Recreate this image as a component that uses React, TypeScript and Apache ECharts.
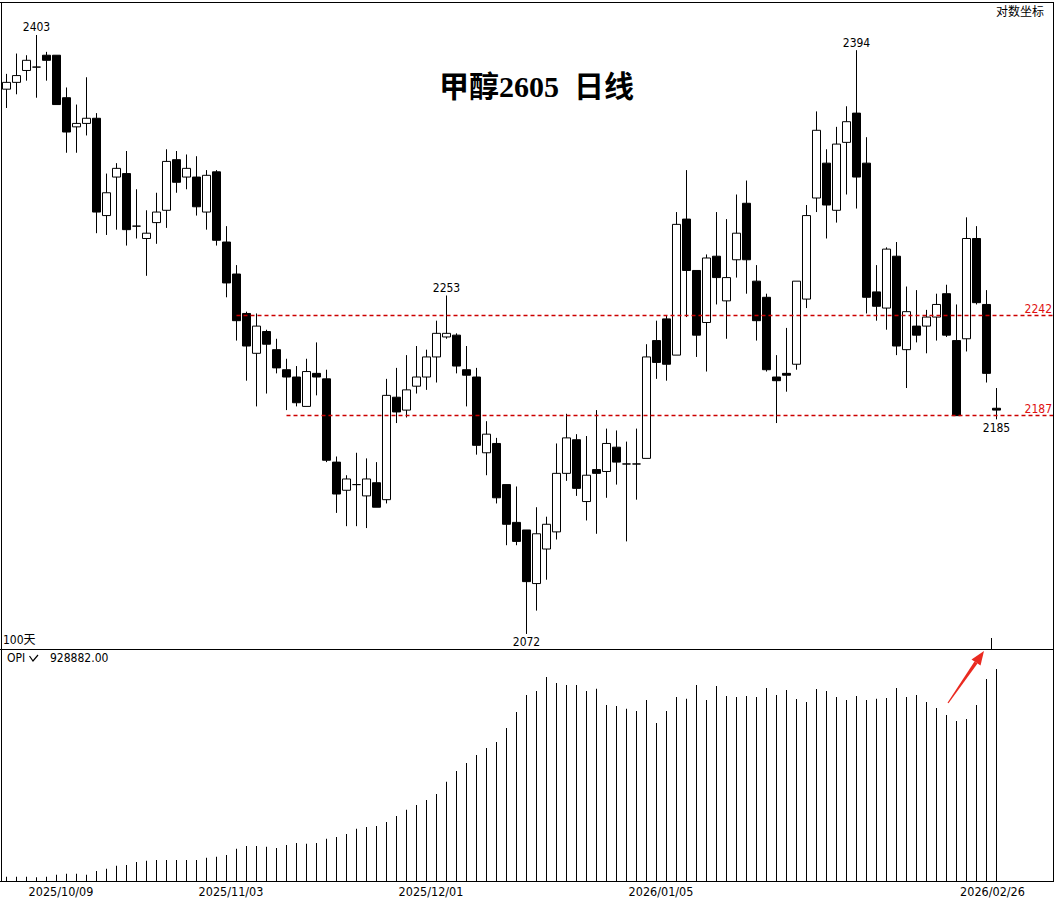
import React, { useEffect, useRef } from 'react';
import * as echarts from 'echarts';

// ---------- data ----------
const DATES = [
  '2025/09/22', '2025/09/23', '2025/09/24', '2025/09/25', '2025/09/26', '2025/09/29', '2025/09/30',
  '2025/10/09', '2025/10/10', '2025/10/13', '2025/10/14', '2025/10/15', '2025/10/16', '2025/10/17',
  '2025/10/20', '2025/10/21', '2025/10/22', '2025/10/23', '2025/10/24', '2025/10/27', '2025/10/28',
  '2025/10/29', '2025/10/30', '2025/10/31',
  '2025/11/03', '2025/11/04', '2025/11/05', '2025/11/06', '2025/11/07', '2025/11/10', '2025/11/11',
  '2025/11/12', '2025/11/13', '2025/11/14', '2025/11/17', '2025/11/18', '2025/11/19', '2025/11/20',
  '2025/11/21', '2025/11/24', '2025/11/25', '2025/11/26', '2025/11/27', '2025/11/28',
  '2025/12/01', '2025/12/02', '2025/12/03', '2025/12/04', '2025/12/05', '2025/12/08', '2025/12/09',
  '2025/12/10', '2025/12/11', '2025/12/12', '2025/12/15', '2025/12/16', '2025/12/17', '2025/12/18',
  '2025/12/19', '2025/12/22', '2025/12/23', '2025/12/24', '2025/12/25', '2025/12/26', '2025/12/29',
  '2025/12/30', '2025/12/31',
  '2026/01/05', '2026/01/06', '2026/01/07', '2026/01/08', '2026/01/09', '2026/01/12', '2026/01/13',
  '2026/01/14', '2026/01/15', '2026/01/16', '2026/01/19', '2026/01/20', '2026/01/21', '2026/01/22',
  '2026/01/23', '2026/01/26', '2026/01/27', '2026/01/28', '2026/01/29', '2026/01/30',
  '2026/02/02', '2026/02/03', '2026/02/04', '2026/02/05', '2026/02/06', '2026/02/09', '2026/02/10',
  '2026/02/11', '2026/02/12', '2026/02/13', '2026/02/24', '2026/02/25', '2026/02/26',
];

const OPEN = [
  2371, 2375, 2382, 2384, 2391, 2391, 2366, 2349, 2351, 2354,
  2298, 2320, 2322, 2292, 2285, 2294, 2301, 2330, 2320, 2320,
  2300, 2323, 2283, 2265, 2243, 2221, 2233, 2223, 2212, 2208,
  2192, 2210, 2207, 2162, 2147, 2150, 2144, 2151, 2142, 2197,
  2190, 2203, 2208, 2219, 2230, 2231, 2212, 2208, 2167, 2172,
  2150, 2130, 2126, 2098, 2116, 2125, 2156, 2174, 2141, 2158,
  2157, 2170, 2161, 2161, 2164, 2228, 2240, 2220, 2296, 2267,
  2238, 2275, 2250, 2273, 2305, 2261, 2252, 2208, 2210, 2215,
  2251, 2308, 2328, 2301, 2340, 2357, 2328, 2255, 2246, 2275,
  2223, 2236, 2236, 2241, 2254, 2228, 2229, 2285, 2248, 2191,
];
const CLOSE = [
  2375, 2379, 2388, 2384, 2388, 2362, 2346, 2351, 2354, 2300,
  2311, 2325, 2290, 2292, 2288, 2300, 2329, 2317, 2325, 2303,
  2321, 2284, 2260, 2239, 2225, 2236, 2226, 2213, 2208, 2194,
  2211, 2208, 2163, 2145, 2153, 2150, 2153, 2138, 2198, 2189,
  2201, 2208, 2219, 2232, 2232, 2214, 2209, 2171, 2177, 2143,
  2129, 2120, 2099, 2124, 2129, 2156, 2175, 2148, 2155, 2156,
  2172, 2162, 2161, 2161, 2219, 2216, 2215, 2293, 2267, 2231,
  2274, 2263, 2263, 2288, 2273, 2239, 2212, 2206, 2209, 2261,
  2298, 2347, 2304, 2339, 2352, 2320, 2252, 2247, 2279, 2225,
  2244, 2231, 2241, 2248, 2231, 2187, 2285, 2249, 2210, 2190,
];
const LOW = [
  2360, 2368, 2376, 2366, 2376, 2362, 2334, 2334, 2344, 2288,
  2287, 2290, 2281, 2285, 2264, 2282, 2291, 2311, 2313, 2298,
  2290, 2281, 2252, 2228, 2206, 2192, 2199, 2210, 2190, 2192,
  2192, 2198, 2162, 2135, 2128, 2128, 2127, 2138, 2140, 2183,
  2186, 2199, 2201, 2205, 2229, 2210, 2192, 2166, 2155, 2140,
  2118, 2118, 2072, 2084, 2100, 2121, 2152, 2144, 2131, 2124,
  2143, 2150, 2120, 2142, 2164, 2207, 2206, 2220, 2241, 2219,
  2211, 2248, 2229, 2263, 2254, 2228, 2211, 2183, 2200, 2212,
  2246, 2300, 2285, 2294, 2310, 2302, 2243, 2239, 2234, 2220,
  2202, 2227, 2221, 2228, 2230, 2187, 2222, 2248, 2205, 2185,
];
const HIGH = [
  2380, 2392, 2391, 2403, 2393, 2391, 2372, 2362, 2378, 2357,
  2322, 2328, 2335, 2313, 2301, 2311, 2336, 2335, 2333, 2332,
  2324, 2324, 2292, 2270, 2244, 2243, 2234, 2229, 2218, 2214,
  2218, 2227, 2212, 2165, 2155, 2167, 2164, 2162, 2207, 2213,
  2220, 2225, 2223, 2239, 2253, 2232, 2225, 2213, 2184, 2175,
  2150, 2149, 2126, 2138, 2133, 2172, 2188, 2177, 2176, 2190,
  2180, 2179, 2173, 2180, 2226, 2239, 2242, 2300, 2324, 2267,
  2276, 2300, 2296, 2310, 2318, 2270, 2254, 2220, 2235, 2261,
  2304, 2358, 2336, 2349, 2361, 2394, 2343, 2270, 2280, 2283,
  2258, 2256, 2245, 2254, 2259, 2248, 2297, 2292, 2256, 2202,
];

const OPI = [
  21000, 21000, 21000, 18400, 21000, 29700, 34100, 34100, 29700, 45900,
  56000, 69100, 72100, 85200, 90900, 94000, 94000, 94000, 94000, 94000,
  104000, 108400, 115800, 143400, 155200, 155200, 152100, 146400, 159500, 168300,
  165200, 168300, 187100, 194500, 207600, 230800, 238200, 242600, 260100, 286300,
  313900, 334400, 356300, 382500, 436200, 483000, 518000, 553000, 583600, 609800,
  671000, 740900, 815200, 832700, 893900, 867700, 858900, 858900, 832700, 842800,
  771500, 767100, 755300, 745300, 793400, 692800, 745300, 806500, 799100, 858900,
  793400, 854600, 810900, 806500, 810900, 806500, 845800, 815200, 837100, 797700,
  784600, 841500, 832700, 806500, 793400, 810900, 793400, 799100, 802100, 845800,
  806500, 815200, 784600, 758400, 727800, 701600, 710300, 771500, 885200, 928882,
];

const LABEL_DATES = ['2025/10/09', '2025/11/03', '2025/12/01', '2026/01/05', '2026/02/26'];
const LEVELS = [
  { value: 2242, fromIdx: 23 },
  { value: 2187, fromIdx: 28 },
];
const PEAKS_TOP = [
  { idx: 3, value: 2403 },
  { idx: 44, value: 2253 },
  { idx: 85, value: 2394 },
];
const PEAKS_BOTTOM = [
  { idx: 52, value: 2072 },
  { idx: 99, value: 2185 },
];
const PRICE_MIN = 2064.3;
const PRICE_MAX = 2422.7;
const OPI_MAX = 1016300;
const TITLE = '甲醇2605  日线';

const FONT = "'DejaVu Sans Condensed', 'DejaVu Sans', 'Liberation Sans', 'Noto Sans CJK SC', sans-serif";

export default function App() {
  const ref = useRef<HTMLDivElement>(null);

  useEffect(() => {
    if (!ref.current) return;
    const chart = echarts.init(ref.current, null, { renderer: 'svg' });

    const candles = OPEN.map((o, i) => [o, CLOSE[i], LOW[i], HIGH[i]]);
    const lastDate = LABEL_DATES[LABEL_DATES.length - 1];

    const lbl = { fontSize: 12, fontFamily: FONT, color: '#000' };
    const red = '#e01010';
    const arrowColor = '#ea2a20';
    const lineRed = '#cc0000';
    const RIGHT_EDGE = 1053;

    const option: any = {
      animation: false,
      backgroundColor: '#ffffff',
      grid: [
        { left: 1.5, top: 2, width: 1050, height: 647, show: false, outerBoundsMode: 'none', containLabel: false },
        { left: 1.5, top: 649, width: 1050, height: 232.5, show: false, outerBoundsMode: 'none', containLabel: false },
      ],
      xAxis: [
        {
          type: 'category', gridIndex: 0, data: DATES, max: 104, boundaryGap: true, show: false,
        },
        {
          type: 'category', gridIndex: 1, data: DATES, max: 104, boundaryGap: true,
          axisLine: { show: false }, axisTick: { show: false }, splitLine: { show: false },
          axisLabel: {
            show: true,
            margin: 4,
            interval: (_i: number, v: string) => LABEL_DATES.indexOf(v) >= 0,
            formatter: (v: string) => (v === lastDate ? `{e|${v}}` : `{n|${v}}`),
            rich: {
              n: { ...lbl, fontSize: 12.5, padding: [0, 31, 0, 0] },
              e: { ...lbl, fontSize: 12.5, padding: [0, 8, 0, 0] },
            },
            ...lbl,
          },
        },
      ],
      yAxis: [
        { type: 'log', logBase: 10, gridIndex: 0, min: PRICE_MIN, max: PRICE_MAX, show: false, splitLine: { show: false } },
        { type: 'value', gridIndex: 1, min: 0, max: OPI_MAX, show: false, splitLine: { show: false } },
      ],
      series: [
        {
          type: 'candlestick',
          xAxisIndex: 0,
          yAxisIndex: 0,
          data: candles,
          barWidth: 8,
          itemStyle: {
            color: '#ffffff',
            color0: '#000000',
            borderColor: '#000000',
            borderColor0: '#000000',
            borderColorDoji: '#000000',
            borderWidth: 1,
          },
          markPoint: {
            silent: true,
            symbol: 'circle',
            symbolSize: 1,
            itemStyle: { color: 'rgba(0,0,0,0)' },
            label: { show: true, ...lbl, formatter: (p: any) => String(p.value) },
            data: [
              ...PEAKS_TOP.map((p) => ({
                coord: [DATES[p.idx], p.value], value: p.value,
                label: { position: 'top', distance: 1 },
              })),
              ...PEAKS_BOTTOM.map((p) => ({
                coord: [DATES[p.idx], p.value], value: p.value,
                label: { position: 'bottom', distance: 2 },
              })),
            ],
          },
        },
        {
          type: 'bar',
          xAxisIndex: 1,
          yAxisIndex: 1,
          data: OPI,
          barWidth: 1,
          itemStyle: { color: '#000000' },
          silent: true,
        },
      ],
    };

    chart.setOption(option);

    // reference levels, positioned through the chart's own scales
    const levelGraphics: any[] = [];
    LEVELS.forEach((lv) => {
      const p = chart.convertToPixel({ xAxisIndex: 0, yAxisIndex: 0 }, [lv.fromIdx, lv.value]) as number[];
      const y = Math.floor(p[1]) + 0.5;
      levelGraphics.push({
        type: 'line', silent: true, z: 10,
        shape: { x1: p[0], y1: y, x2: RIGHT_EDGE, y2: y },
        style: { stroke: lineRed, lineWidth: 1.3, lineDash: [4, 3] },
      });
      levelGraphics.push({
        type: 'text', silent: true, z: 10, x: RIGHT_EDGE - 1, y: y - 1,
        style: {
          text: String(lv.value), fill: red, align: 'right', verticalAlign: 'bottom',
          fontSize: 12, fontFamily: FONT,
        },
      });
    });

    chart.setOption({
      graphic: [
        { type: 'line', silent: true, shape: { x1: 0, y1: 2.5, x2: 1054, y2: 2.5 }, style: { stroke: '#000', lineWidth: 1 } },
        { type: 'line', silent: true, shape: { x1: 1.5, y1: 2, x2: 1.5, y2: 882 }, style: { stroke: '#000', lineWidth: 1 } },
        { type: 'line', silent: true, shape: { x1: 1053.5, y1: 2, x2: 1053.5, y2: 882 }, style: { stroke: '#000', lineWidth: 1 } },
        { type: 'line', silent: true, shape: { x1: 0, y1: 649.5, x2: 1054, y2: 649.5 }, style: { stroke: '#000', lineWidth: 1 } },
        { type: 'line', silent: true, shape: { x1: 0, y1: 881.5, x2: 1054, y2: 881.5 }, style: { stroke: '#000', lineWidth: 1 } },
        { type: 'line', silent: true, shape: { x1: 991.5, y1: 638, x2: 991.5, y2: 649 }, style: { stroke: '#000', lineWidth: 1 } },
        ...levelGraphics,
        {
          type: 'text', silent: true, x: 439, y: 86,
          style: {
            text: TITLE, fill: '#000', verticalAlign: 'middle', align: 'left',
            fontSize: 30, fontWeight: 'bold', fontFamily: "'Liberation Serif', 'Noto Sans CJK SC', serif",
          },
        },
        {
          type: 'text', silent: true, x: 1020, y: 12,
          style: { text: '对数坐标', fill: '#000', align: 'center', verticalAlign: 'middle', fontSize: 12, fontFamily: FONT },
        },
        {
          type: 'text', silent: true, x: 3, y: 640,
          style: { text: '100天', fill: '#000', align: 'left', verticalAlign: 'middle', fontSize: 12, fontFamily: FONT },
        },
        {
          type: 'text', silent: true, x: 7, y: 658,
          style: { text: 'OPI', fill: '#000', align: 'left', verticalAlign: 'middle', fontSize: 12, fontFamily: FONT },
        },
        {
          type: 'polyline', silent: true,
          shape: { points: [[29.5, 656], [33, 661], [38, 655]] },
          style: { stroke: '#000', lineWidth: 1.2, fill: null },
        },
        {
          type: 'text', silent: true, x: 50, y: 658,
          style: { text: OPI[OPI.length - 1].toFixed(2), fill: '#000', align: 'left', verticalAlign: 'middle', fontSize: 12, fontFamily: FONT },
        },
        {
          type: 'polygon', silent: true,
          shape: { points: [[947.5, 702.7], [948.5, 703.3], [977.5, 663.5], [974.5, 661.5]] },
          style: { fill: arrowColor },
        },
        {
          type: 'polygon', silent: true,
          shape: { points: [[984, 651], [980.5, 665.6], [971.5, 659.4]] },
          style: { fill: arrowColor },
        },
      ],
    });

    return () => {
      chart.dispose();
    };
  }, []);

  return (
    <div
      ref={ref}
      style={{ position: 'fixed', left: 0, top: 0, width: 1057, height: 899, background: '#fff' }}
    />
  );
}
